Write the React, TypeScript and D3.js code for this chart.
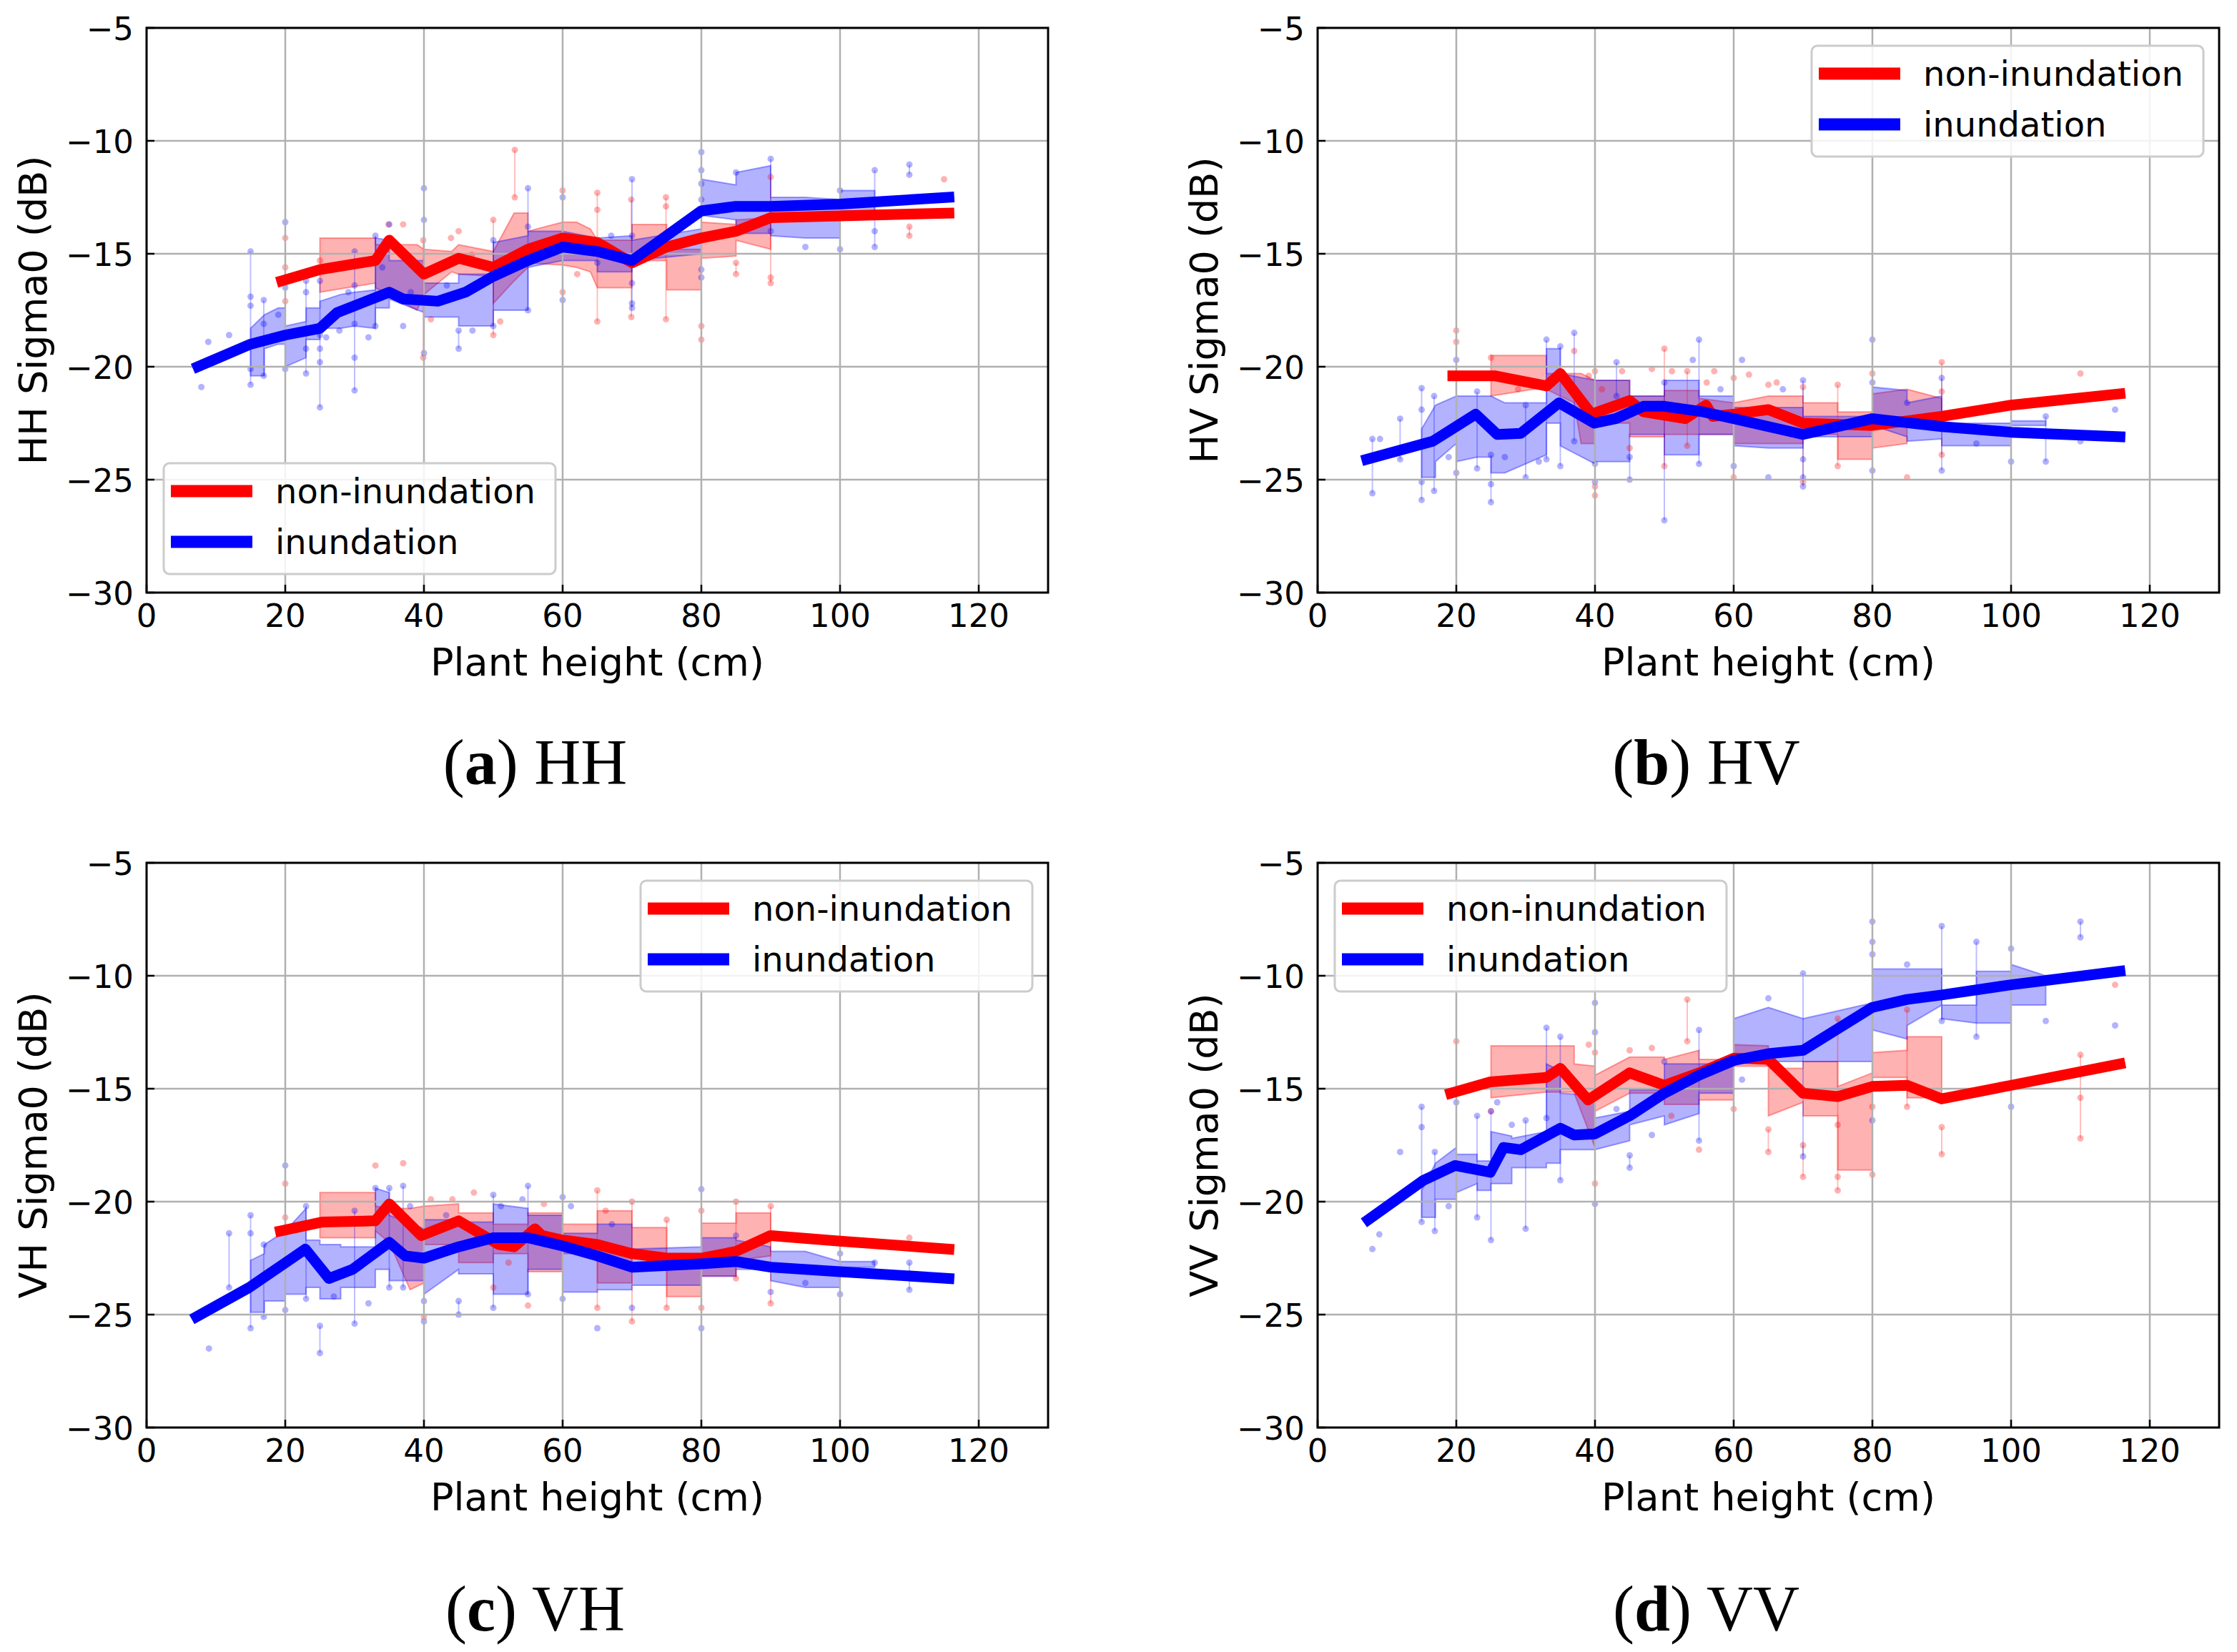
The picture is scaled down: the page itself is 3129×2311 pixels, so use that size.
import React from "react";
import * as d3 from "d3";

type Pt = [number, number];
type BandPt = [number, number, number]; // height, lower, upper

/* ───────── tick labels ───────── */
const xTicks = [0, 20, 40, 60, 80, 100, 120];
const yTicks = [-30, -25, -20, -15, -10, -5];
const seriesNames = ["non-inundation", "inundation"];

/* ───────── (a) HH ───────── */
const hhNonLine: Pt[] = [[19.5,-16.2],[25,-15.7],[33,-15.3],[35,-14.4],[40,-15.9],[45,-15.2],[50,-15.6],[55,-14.8],[60,-14.3],[65,-14.5],[70,-15.4],[75,-14.7],[80,-14.3],[85,-14.0],[90,-13.4],[115.7,-13.2]];
const hhInLine: Pt[] = [[7.4,-20.0],[15,-19.0],[20,-18.6],[25,-18.3],[27.5,-17.6],[30,-17.3],[35,-16.7],[37,-17.0],[42,-17.1],[46,-16.7],[50,-16.0],[55,-15.3],[60,-14.7],[65,-14.9],[70,-15.3],[80,-13.1],[85,-12.9],[90,-12.9],[100,-12.8],[115.7,-12.5]];
const hhNonBand: BandPt[] = [[25,-16.7,-14.3],[33,-16.3,-14.3],[33,-16.5,-14.6],[39,-17.5,-14.6],[40,-16.8,-14.8],[44,-15.8,-14.9],[45,-15.9,-14.6],[50,-16.0,-14.9],[50,-17.2,-14.9],[53,-16.2,-13.2],[55,-15.6,-13.2],[55,-15.4,-14.0],[60,-15.5,-13.6],[62,-15.6,-13.6],[64,-15.8,-13.9],[65,-16.5,-14.4],[70,-16.5,-14.4],[70,-15.3,-13.7],[75,-15.3,-13.7],[75,-16.6,-14.8],[80,-16.6,-14.8],[80,-15.2,-13.6],[85,-15.1,-13.7],[85,-14.4,-13.5],[90,-14.8,-13.4]];
const hhInBand: BandPt[] = [[15,-20.4,-18.3],[17,-20.4,-17.7],[17,-19.2,-17.7],[19,-19.0,-17.4],[20,-19.0,-17.4],[20,-20.0,-18.2],[23,-19.6,-18.0],[23,-18.8,-17.4],[25,-18.8,-17.4],[25,-18.3,-17.1],[28,-18.3,-16.8],[30,-18.2,-16.7],[33,-18.3,-16.6],[33,-17.4,-14.3],[35,-17.4,-14.4],[35,-17.0,-15.3],[40,-17.6,-15.3],[40,-17.8,-16.3],[45,-17.8,-16.3],[45,-18.2,-15.9],[50,-18.2,-15.9],[50,-17.5,-14.5],[55,-17.5,-14.2],[55,-15.6,-14.0],[60,-15.3,-14.0],[65,-15.3,-14.3],[65,-15.8,-14.3],[70,-15.8,-14.2],[70,-15.3,-14.4],[80,-15.0,-13.9],[80,-13.3,-11.7],[85,-13.5,-11.95],[85,-14.1,-11.4],[90,-14.1,-11.1],[90,-14.2,-12.5],[95,-14.3,-12.5],[100,-14.3,-12.6],[100,-13.1,-12.2],[105,-13.1,-12.2]];
const hhNonDots: Pt[] = [[20,-14.3],[20,-15.6],[20,-17.1],[25,-15.3],[34.9,-13.7],[37,-13.7],[39.9,-14.4],[39.9,-19.6],[41,-17.9],[43.9,-14.3],[45,-14.0],[46.9,-15.05],[50,-13.5],[50,-18.6],[51,-18.0],[53.1,-10.4],[53.1,-12.5],[60,-12.2],[60,-16.7],[62.1,-15.9],[65,-12.3],[65,-13.05],[65,-18.0],[69.9,-12.6],[69.9,-17.8],[74.9,-12.5],[74.9,-12.9],[74.9,-17.9],[80,-18.2],[80,-18.8],[85,-15.4],[85,-15.9],[90,-11.6],[90,-16.05],[90,-16.3],[110,-13.8],[110,-14.2],[115,-11.7]];
const hhInDots: Pt[] = [[7.9,-20.9],[8.9,-18.9],[11.9,-18.6],[15,-14.9],[15,-16.9],[15,-17.3],[15,-20.1],[15,-20.8],[16.9,-17.05],[16.9,-18.1],[16.9,-20.4],[19,-17.7],[20,-13.6],[20,-16.5],[20,-20.1],[23,-16.2],[23,-16.7],[23,-19.2],[23,-20.3],[25,-16.2],[25,-18.6],[25,-19.2],[25,-19.8],[25,-21.8],[25.9,-18.7],[27.8,-18.4],[29.1,-16.7],[30,-14.9],[30,-16.4],[30,-18.1],[30,-19.6],[30,-21.05],[32,-18.7],[33,-14.2],[33,-18.2],[35,-13.7],[34,-15.6],[37,-18.2],[38.1,-16.7],[40,-12.1],[40,-13.5],[40,-19.4],[43.3,-16.4],[45,-18.4],[45,-19.2],[47,-18.4],[50,-14.4],[50,-18.2],[55,-12.1],[55,-13.8],[55,-17.5],[60,-12.5],[60,-17.05],[65,-15.4],[67,-14.2],[70,-11.7],[70,-14.2],[70,-16.3],[70,-17.2],[70,-17.4],[80,-10.5],[80,-11.3],[80,-11.9],[80,-12.6],[80,-15.7],[80,-16.05],[85,-11.4],[90,-10.8],[90,-14.0],[95,-14.7],[100,-12.2],[100,-14.8],[105,-11.3],[105,-14.0],[105,-14.7],[110,-11.05],[110,-11.5]];

/* ───────── (b) HV ───────── */
const hvNonLine: Pt[] = [[19.5,-20.4],[25.5,-20.4],[33,-20.85],[35,-20.3],[39.5,-22.1],[45,-21.5],[47,-22.0],[53,-22.3],[56,-21.7],[57,-22.2],[60,-22.1],[65,-21.9],[70,-22.5],[80,-22.6],[90,-22.2],[100,-21.7],[115.7,-21.2]];
const hvInLine: Pt[] = [[7.1,-24.1],[16.6,-23.3],[22.8,-22.1],[25.9,-23.0],[29.3,-22.95],[34.8,-21.6],[39.9,-22.5],[43,-22.3],[47,-21.75],[50,-21.75],[55.6,-22.0],[60,-22.3],[65,-22.65],[70,-23.0],[80,-22.3],[90,-22.65],[100,-22.9],[115.7,-23.1]];
const hvNonBand: BandPt[] = [[25,-21.3,-19.5],[33,-20.9,-19.5],[33,-21.0,-20.3],[37,-21.6,-20.3],[38,-23.4,-20.3],[40,-23.4,-20.6],[40,-22.5,-20.6],[45,-22.5,-20.6],[45,-23.1,-21.3],[50,-23.1,-21.3],[50,-23.0,-21.05],[55,-23.0,-21.05],[55,-23.0,-21.4],[60,-23.0,-21.6],[60,-23.4,-21.6],[65,-23.4,-21.3],[70,-23.4,-21.3],[70,-23.0,-21.6],[75,-23.0,-21.6],[75,-24.1,-22.0],[80,-24.1,-22.0],[80,-23.6,-21.2],[85,-23.4,-21.0],[85,-22.6,-21.0],[90,-22.5,-21.4]];
const hvInBand: BandPt[] = [[15,-24.9,-22.75],[17,-24.9,-21.7],[17,-24.2,-21.7],[20,-23.4,-21.3],[20,-24.2,-21.3],[23,-24.0,-21.3],[25,-24.0,-21.3],[25,-24.7,-21.3],[27,-24.7,-21.6],[33,-23.9,-21.6],[33,-22.5,-19.2],[35,-22.5,-19.2],[35,-23.5,-20.3],[40,-24.3,-20.6],[40,-24.2,-20.6],[45,-24.2,-20.6],[45,-23.0,-21.3],[50,-23.0,-21.3],[50,-23.9,-20.6],[55,-23.9,-20.6],[55,-23.0,-21.3],[60,-23.0,-21.3],[60,-23.5,-21.8],[65,-23.6,-21.8],[70,-23.6,-21.8],[70,-23.1,-22.2],[80,-23.1,-22.2],[80,-22.6,-20.9],[85,-23.1,-21.05],[85,-23.3,-21.6],[90,-23.2,-21.3],[90,-23.5,-22.5],[100,-23.5,-22.5],[100,-22.6,-22.4],[105,-22.6,-22.4]];
const hvNonDots: Pt[] = [[20,-18.4],[20,-18.9],[25,-19.6],[28.9,-21.0],[37,-19.3],[39.1,-20.4],[40,-20.2],[40,-25.3],[40,-25.7],[41,-21.0],[43.9,-20.2],[45,-23.6],[48.2,-20.1],[50,-19.2],[50,-24.4],[51.1,-20.2],[53.3,-20.2],[53.3,-23.5],[56.1,-20.7],[57.2,-20.2],[60,-20.5],[60,-24.9],[62.2,-20.35],[65,-20.8],[66.2,-20.7],[70,-20.9],[70,-25.1],[75,-20.8],[75,-24.4],[80,-20.3],[85,-24.9],[90,-19.8],[90,-21.1],[90,-23.9],[110,-20.3]];
const hvInDots: Pt[] = [[7.9,-23.2],[9,-23.2],[7.9,-25.6],[11.9,-22.3],[11.9,-24.1],[15,-20.95],[15,-21.9],[15,-25.1],[15,-25.9],[16.8,-21.3],[16.8,-25.5],[18.9,-24.0],[20,-19.7],[20,-24.7],[23,-21.1],[23,-24.5],[25,-23.9],[25,-25.2],[25,-26.0],[27,-24.0],[30,-21.7],[30,-24.9],[31.9,-24.2],[33,-18.8],[33,-24.1],[35,-19.1],[35,-24.4],[37,-18.5],[37,-23.3],[40,-24.3],[40,-25.1],[43.1,-19.8],[43.1,-21.3],[45,-24.0],[45,-25.0],[50,-26.8],[50,-20.7],[54.1,-19.7],[55,-18.8],[55,-24.3],[58.1,-21.0],[60,-24.4],[61.2,-19.7],[65,-24.9],[67.1,-21.0],[70,-20.6],[70,-24.1],[70,-24.9],[70,-25.3],[80,-18.8],[80,-20.7],[80,-24.6],[85,-21.6],[90,-20.5],[90,-24.6],[95,-23.4],[100,-24.2],[105,-22.2],[105,-24.2],[110,-23.3],[115,-21.9]];

/* ───────── (c) VH ───────── */
const vhNonLine: Pt[] = [[19.3,-21.3],[25.4,-20.9],[33,-20.85],[35,-20.1],[39.6,-21.5],[45,-20.85],[50.8,-21.9],[53,-22.0],[56,-21.2],[57,-21.5],[60,-21.7],[65,-21.9],[70,-22.3],[75,-22.5],[80,-22.5],[85,-22.2],[90,-21.5],[100,-21.75],[115.7,-22.1]];
const vhInLine: Pt[] = [[7.2,-25.1],[14.8,-23.8],[19.1,-22.9],[22.9,-22.1],[26.3,-23.4],[29.7,-23.0],[35,-21.8],[37.3,-22.4],[40,-22.5],[45,-22.0],[50,-21.6],[55,-21.6],[60,-21.96],[65,-22.4],[70,-22.9],[80,-22.75],[85,-22.65],[90,-22.9],[100,-23.1],[115.7,-23.4]];
const vhNonBand: BandPt[] = [[25,-21.6,-19.6],[33,-21.6,-19.6],[33,-21.3,-20.2],[35,-21.8,-20.3],[38,-23.9,-20.3],[40,-23.6,-20.2],[40,-21.9,-20.2],[45,-21.9,-20.1],[45,-22.7,-20.5],[50,-22.7,-20.5],[50,-22.3,-21.0],[55,-22.3,-21.0],[55,-23.1,-20.5],[60,-23.1,-20.5],[60,-22.3,-21.0],[65,-22.3,-21.0],[65,-23.6,-20.4],[70,-23.6,-20.4],[70,-22.4,-21.15],[75,-22.4,-21.15],[75,-24.2,-22.3],[80,-24.2,-22.3],[80,-23.3,-20.95],[85,-23.3,-20.95],[85,-22.6,-20.5],[90,-22.4,-20.5]];
const vhInBand: BandPt[] = [[15,-24.9,-22.6],[17,-24.9,-22.3],[17,-24.4,-21.9],[20,-24.4,-21.3],[20,-24.1,-21.3],[23,-24.1,-20.3],[23,-23.8,-21.7],[25,-23.8,-21.7],[25,-24.3,-21.9],[28,-24.3,-21.9],[28,-23.8,-22.0],[33,-23.8,-22.0],[33,-23.0,-19.4],[35,-23.0,-19.6],[35,-23.5,-20.6],[40,-23.5,-21.2],[40,-24.1,-20.8],[45,-23.0,-20.8],[45,-23.2,-20.9],[50,-23.2,-20.9],[50,-24.1,-20.1],[55,-24.1,-20.3],[55,-23.0,-20.6],[60,-23.0,-20.6],[60,-24.0,-21.4],[65,-24.0,-21.4],[65,-23.9,-21.0],[70,-23.9,-21.0],[70,-23.7,-22.1],[80,-23.7,-22.0],[80,-23.3,-21.6],[85,-23.3,-21.6],[85,-23.0,-21.7],[90,-23.0,-22.0],[90,-23.5,-22.2],[95,-23.8,-22.2],[100,-23.8,-22.65],[100,-22.9,-22.65],[105,-22.9,-22.65]];
const vhNonDots: Pt[] = [[20,-19.2],[20,-20.7],[33,-18.4],[37,-18.3],[41,-19.9],[44.1,-19.9],[47.2,-19.6],[50,-23.8],[52.2,-22.7],[55,-24.6],[57.3,-20.1],[40,-25.1],[65,-19.5],[65,-24.7],[66.2,-20.4],[70,-20.0],[70,-25.3],[75,-20.8],[75,-24.7],[80,-20.4],[80,-24.7],[85,-20.0],[85,-23.4],[90,-20.2],[90,-24.5],[110,-21.6]];
const vhInDots: Pt[] = [[9,-26.5],[11.9,-21.4],[11.9,-23.8],[15,-20.6],[15,-21.4],[15,-25.6],[16.9,-21.9],[16.9,-25.1],[20,-18.4],[20,-24.8],[23,-20.2],[23,-24.3],[25,-25.5],[25,-26.7],[27,-24.2],[30,-20.4],[30,-25.4],[32,-24.5],[33,-19.4],[35,-19.4],[35,-23.8],[37,-19.3],[37,-23.8],[38,-20.2],[40,-24.4],[40,-25.3],[43.2,-20.6],[45,-24.4],[45,-25.0],[50,-19.7],[50,-24.7],[51.1,-20.2],[55,-19.3],[55,-24.1],[54.2,-19.9],[60,-19.8],[60,-24.3],[61.2,-20.2],[65,-25.6],[67.1,-21.0],[70,-24.7],[80,-19.45],[80,-25.6],[85,-21.5],[90,-24.0],[95,-23.6],[100,-22.3],[100,-24.1],[105,-22.7],[110,-22.7],[110,-23.9]];

/* ───────── (d) VV ───────── */
const vvNonLine: Pt[] = [[19.2,-15.2],[24.9,-14.7],[33,-14.5],[35,-14.1],[39,-15.5],[45,-14.3],[50,-14.85],[55,-14.3],[60,-13.65],[65,-13.7],[70,-15.2],[75,-15.35],[80,-14.9],[85,-14.85],[90,-15.45],[100,-14.85],[115.7,-13.9]];
const vvInLine: Pt[] = [[7.3,-20.8],[15.3,-19.05],[19.8,-18.4],[24.9,-18.7],[26.8,-17.6],[29.3,-17.7],[35,-16.75],[37,-17.05],[40,-17.0],[45,-16.2],[50,-15.2],[55,-14.4],[60,-13.75],[65,-13.45],[70,-13.3],[80,-11.4],[85,-11.05],[90,-10.85],[100,-10.4],[115.7,-9.8]];
const vvNonBand: BandPt[] = [[25,-15.4,-13.1],[33,-15.15,-13.1],[37,-15.15,-13.1],[37,-15.2,-13.9],[40,-17.6,-14.0],[40,-16.0,-14.4],[45,-15.2,-13.6],[50,-15.2,-13.6],[50,-15.7,-13.7],[55,-15.7,-13.3],[55,-15.5,-13.7],[60,-15.5,-13.7],[60,-14.0,-13.05],[65,-14.0,-13.1],[65,-16.2,-14.1],[70,-15.6,-14.1],[70,-16.2,-13.8],[75,-16.2,-13.8],[75,-18.6,-14.9],[80,-18.6,-14.3],[80,-14.5,-13.4],[85,-14.5,-13.3],[85,-15.4,-12.7],[90,-15.4,-12.7]];
const vvInBand: BandPt[] = [[15,-20.7,-19.5],[17,-20.7,-18.3],[17,-19.9,-18.3],[20,-19.9,-17.6],[20,-19.6,-17.9],[23,-19.2,-17.9],[23,-19.5,-18.2],[25,-19.5,-18.2],[25,-19.2,-16.9],[28,-19.2,-17.1],[28,-18.5,-17.2],[33,-18.5,-16.9],[33,-18.3,-13.9],[35,-18.3,-14.2],[35,-17.7,-15.2],[40,-17.7,-15.3],[40,-17.7,-16.3],[45,-17.3,-16.0],[45,-16.6,-15.05],[50,-16.2,-15.05],[50,-16.6,-13.9],[55,-16.1,-13.9],[55,-15.2,-13.9],[60,-15.2,-13.9],[60,-13.7,-11.9],[65,-13.8,-11.4],[70,-13.8,-11.9],[80,-13.8,-11.2],[80,-12.4,-9.7],[85,-12.8,-9.7],[85,-12.2,-9.7],[90,-11.3,-9.7],[90,-11.9,-11.3],[95,-12.1,-11.3],[95,-12.1,-9.8],[100,-12.1,-9.8],[100,-11.3,-9.5],[105,-11.3,-10.0]];
const vvNonDots: Pt[] = [[20,-12.9],[25,-16.0],[39.1,-13.05],[40,-13.4],[40,-19.2],[45,-13.3],[48.2,-13.2],[53.3,-11.05],[53.3,-12.9],[55,-17.7],[60,-15.9],[51,-16.2],[65,-16.8],[65,-17.8],[70,-17.5],[70,-18.9],[75,-11.9],[75,-16.6],[75,-18.9],[75,-19.5],[80,-15.8],[80,-18.8],[85,-11.5],[85,-15.8],[90,-16.7],[90,-17.9],[110,-13.5],[110,-15.4],[110,-17.2],[115,-10.4]];
const vvInDots: Pt[] = [[7.9,-22.1],[8.9,-21.45],[11.9,-17.8],[15,-15.8],[15,-16.7],[15,-20.9],[16.9,-17.8],[16.9,-21.3],[18.9,-20.2],[20,-15.6],[23,-16.2],[23,-20.7],[25,-16.0],[25,-21.7],[25.9,-15.6],[28,-16.6],[30,-16.4],[30,-21.2],[33,-16.3],[33,-12.3],[35,-12.7],[35,-19.05],[40,-11.2],[40,-12.5],[40,-20.1],[43.1,-15.9],[45,-17.95],[45,-18.5],[48.2,-17.05],[50,-13.8],[55,-12.4],[55,-17.3],[61.2,-14.6],[65,-11.0],[70,-9.9],[70,-18.0],[80,-7.6],[80,-8.5],[80,-9.05],[80,-16.4],[85,-9.5],[90,-7.8],[90,-12.0],[95,-8.5],[95,-12.7],[100,-8.8],[100,-15.8],[105,-12.0],[110,-7.6],[110,-8.3],[115,-12.2]];

/* ───────── layout ───────── */
const W = 1261;
const H = 790;
const RED = "#ff0000";
const BLUE = "#0000ff";
const SANS = "'DejaVu Sans', sans-serif";
const SERIF = "'Liberation Serif', 'Times New Roman', serif";

type PanelCfg = {
  letter: string;
  pol: string;
  x0: number;
  y0: number;
  capY: number;
  legend: "ll" | "ur" | "ul";
  nonLine: Pt[];
  inLine: Pt[];
  nonBand: BandPt[];
  inBand: BandPt[];
  nonDots: Pt[];
  inDots: Pt[];
};

const panels: PanelCfg[] = [
  { letter: "a", pol: "HH", x0: 205, y0: 39, capY: 1097, legend: "ll", nonLine: hhNonLine, inLine: hhInLine, nonBand: hhNonBand, inBand: hhInBand, nonDots: hhNonDots, inDots: hhInDots },
  { letter: "b", pol: "HV", x0: 1843, y0: 39, capY: 1097, legend: "ur", nonLine: hvNonLine, inLine: hvInLine, nonBand: hvNonBand, inBand: hvInBand, nonDots: hvNonDots, inDots: hvInDots },
  { letter: "c", pol: "VH", x0: 205, y0: 1207, capY: 2281, legend: "ur", nonLine: vhNonLine, inLine: vhInLine, nonBand: vhNonBand, inBand: vhInBand, nonDots: vhNonDots, inDots: vhInDots },
  { letter: "d", pol: "VV", x0: 1843, y0: 1207, capY: 2281, legend: "ul", nonLine: vvNonLine, inLine: vvInLine, nonBand: vvNonBand, inBand: vvInBand, nonDots: vvNonDots, inDots: vvInDots },
];

const x = d3.scaleLinear().domain([0, 130]).range([0, W]);
const y = d3.scaleLinear().domain([-30, -5]).range([H, 0]);

const lineGen = d3.line<Pt>().x((d) => x(d[0])).y((d) => y(d[1]));
const areaGen = d3
  .area<BandPt>()
  .x((d) => x(d[0]))
  .y0((d) => y(d[1]))
  .y1((d) => y(d[2]));

const fmt = (v: number) => (v < 0 ? `\u2212${Math.abs(v)}` : `${v}`);

const Dots: React.FC<{ pts: Pt[]; color: string }> = ({ pts, color }) => {
  const groups = d3.groups(pts, (d) => d[0]);
  return (
    <g>
      {groups.map(([h, g]) => {
        if (g.length < 2) return null;
        const [lo, hi] = d3.extent(g, (d) => d[1]) as [number, number];
        return (
          <line key={`v${h}`} x1={x(h)} x2={x(h)} y1={y(lo)} y2={y(hi)} stroke={color} strokeOpacity={0.25} strokeWidth={2} />
        );
      })}
      {pts.map((d, i) => (
        <circle key={i} cx={x(d[0])} cy={y(d[1])} r={4.5} fill={color} fillOpacity={0.3} />
      ))}
    </g>
  );
};

const Legend: React.FC<{ pos: PanelCfg["legend"] }> = ({ pos }) => {
  const bw = 548;
  const bh = 155;
  const bx = pos === "ur" ? W - 22 - bw : 24;
  const by = pos === "ll" ? H - 26 - bh : 25;
  const rows = [
    { name: seriesNames[0], color: RED, cy: 39 },
    { name: seriesNames[1], color: BLUE, cy: 110 },
  ];
  return (
    <g transform={`translate(${bx},${by})`}>
      <rect width={bw} height={bh} rx={8} fill="#ffffff" fillOpacity={0.85} stroke="#cccccc" strokeWidth={3} />
      {rows.map((r) => (
        <g key={r.name}>
          <line x1={10} x2={124} y1={r.cy} y2={r.cy} stroke={r.color} strokeWidth={17} />
          <text x={156} y={r.cy + 17} fontFamily={SANS} fontSize={48} fill="#000">
            {r.name}
          </text>
        </g>
      ))}
    </g>
  );
};

const Panel: React.FC<{ cfg: PanelCfg }> = ({ cfg }) => {
  const clipId = `clip-${cfg.letter}`;
  return (
    <g>
      <g transform={`translate(${cfg.x0},${cfg.y0})`}>
        <defs>
          <clipPath id={clipId}>
            <rect width={W} height={H} />
          </clipPath>
        </defs>
        <g clipPath={`url(#${clipId})`}>
          {[
            { band: cfg.nonBand, color: RED },
            { band: cfg.inBand, color: BLUE },
          ].map((b, i) => (
            <path key={i} d={areaGen(b.band) ?? ""} fill={b.color} fillOpacity={0.3} stroke={b.color} strokeOpacity={0.35} strokeWidth={2} />
          ))}
          <Dots pts={cfg.nonDots} color={RED} />
          <Dots pts={cfg.inDots} color={BLUE} />
          {xTicks.map((t) => (
            <line key={`gx${t}`} x1={x(t)} x2={x(t)} y1={0} y2={H} stroke="#b0b0b0" strokeWidth={2.5} />
          ))}
          {yTicks.map((t) => (
            <line key={`gy${t}`} x1={0} x2={W} y1={y(t)} y2={y(t)} stroke="#b0b0b0" strokeWidth={2.5} />
          ))}
          <path d={lineGen(cfg.nonLine) ?? ""} fill="none" stroke={RED} strokeWidth={15} strokeLinejoin="round" strokeLinecap="square" />
          <path d={lineGen(cfg.inLine) ?? ""} fill="none" stroke={BLUE} strokeWidth={15} strokeLinejoin="round" strokeLinecap="square" />
        </g>
        <rect width={W} height={H} fill="none" stroke="#000" strokeWidth={3} />
        {yTicks.map((t) => (
          <g key={`ty${t}`}>
            <line x1={0} x2={11} y1={y(t)} y2={y(t)} stroke="#000" strokeWidth={2.5} />
            <text x={-18} y={y(t) + 16.5} textAnchor="end" fontFamily={SANS} fontSize={45} fill="#000">
              {fmt(t)}
            </text>
          </g>
        ))}
        {xTicks.map((t) => (
          <g key={`tx${t}`}>
            <line x1={x(t)} x2={x(t)} y1={H} y2={H - 11} stroke="#000" strokeWidth={2.5} />
            <text x={x(t)} y={H + 48} textAnchor="middle" fontFamily={SANS} fontSize={45} fill="#000">
              {fmt(t)}
            </text>
          </g>
        ))}
        <text x={W / 2} y={H + 116} textAnchor="middle" fontFamily={SANS} fontSize={54} fill="#000">
          Plant height (cm)
        </text>
        <text transform={`translate(-140,${H / 2}) rotate(-90)`} textAnchor="middle" fontFamily={SANS} fontSize={54} fill="#000">
          {`${cfg.pol} Sigma0 (dB)`}
        </text>
        <Legend pos={cfg.legend} />
      </g>
      <text x={cfg.x0 + W / 2 - 87} y={cfg.capY} textAnchor="middle" fontFamily={SERIF} fontSize={90} fill="#000">
        (<tspan fontWeight="bold">{cfg.letter}</tspan>) {cfg.pol}
      </text>
    </g>
  );
};

const App: React.FC = () => (
  <svg
    width={3129}
    height={2311}
    viewBox="0 0 3129 2311"
    style={{ position: "absolute", left: 0, top: 0, background: "#ffffff" }}
  >
    <rect width={3129} height={2311} fill="#ffffff" />
    {panels.map((p) => (
      <Panel key={p.letter} cfg={p} />
    ))}
  </svg>
);

export default App;
